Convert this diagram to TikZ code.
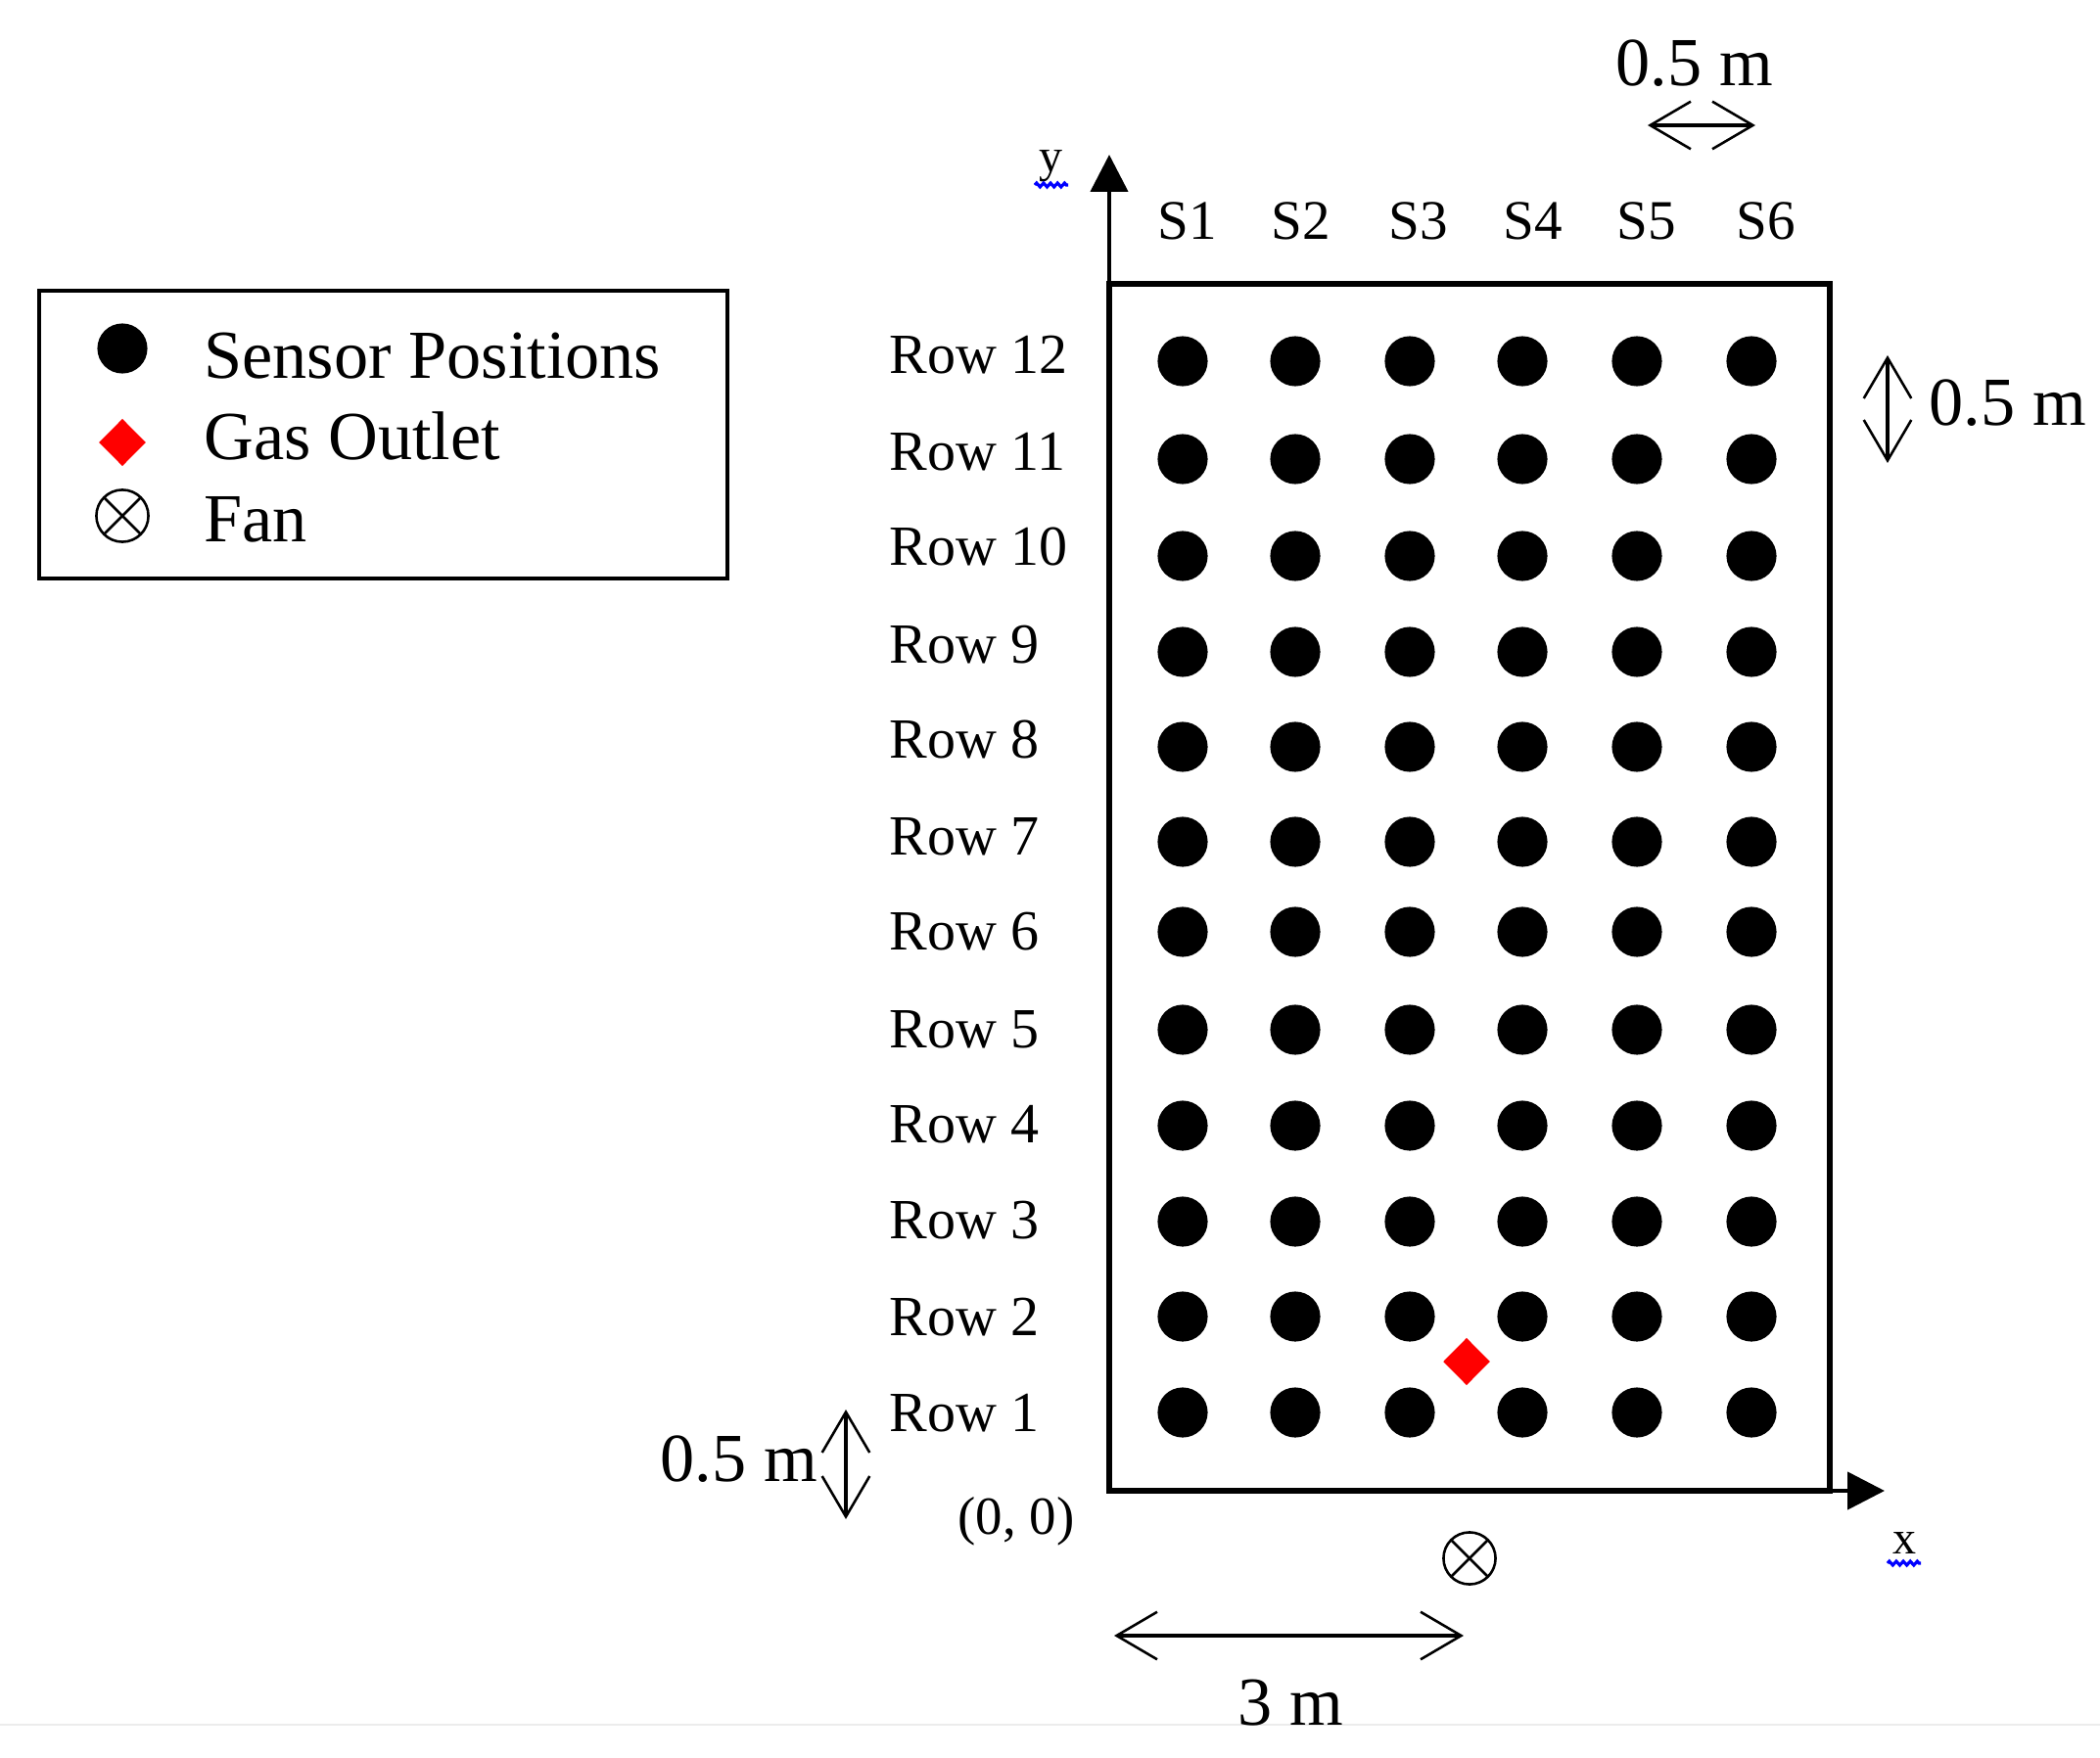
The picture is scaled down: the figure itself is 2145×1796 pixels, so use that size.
\documentclass[tikz,border=0pt]{standalone}
\usepackage{fontspec}
\setmainfont{Liberation Serif}
\usetikzlibrary{arrows.meta,shapes.geometric,decorations.pathmorphing}
\definecolor{edgegray}{RGB}{236,236,236}
\begin{document}
\begin{tikzpicture}[x=0.35pt,y=-0.35pt,
  sensor/.style={circle,fill=black,minimum size=17.9pt,inner sep=0pt,outer sep=0pt},
  outlet/.style={diamond,fill=red,shape aspect=1,minimum width=16.8pt,minimum height=17pt,inner sep=0pt},
  fanmark/.style={circle,draw,line width=0.9pt,minimum size=18.6pt,inner sep=0pt,
     path picture={\draw[line width=0.9pt]
       (path picture bounding box.north west)--(path picture bounding box.south east)
       (path picture bounding box.north east)--(path picture bounding box.south west);}},
  rowlab/.style={anchor=base west,inner sep=0pt,font=\fontsize{20.3}{22}\selectfont},
  slab/.style={anchor=base,inner sep=0pt,font=\fontsize{20}{22}\selectfont},
  biglab/.style={anchor=base west,inner sep=0pt,font=\fontsize{24.6}{28}\selectfont},
  axlab/.style={anchor=base,inner sep=0pt,font=\fontsize{16.8}{18}\selectfont},
  axisline/.style={line width=1.6pt,-{Triangle[length=13.3pt,width=13.3pt]}},
  dimarrow/.style={line width=1.5pt,
     {Straight Barb[length=14.5pt,width=17pt,line width=0.9pt]}-{Straight Barb[length=14.5pt,width=17pt,line width=0.9pt]}},
  squiggle/.style={blue,line width=1.1pt,decorate,decoration={zigzag,segment length=2.5pt,amplitude=0.7pt}}
]
\useasboundingbox (0,0) rectangle (2145,1796);

% faint bottom edge
\draw[edgegray,line width=1pt] (0,1762) -- (2145,1762);

% legend
\draw[line width=1.4pt] (40,297) rectangle (743,591);
\node[sensor] (legsensor) at (125,356) {};
\node[outlet] (legoutlet) at (125,452) {};
\node[fanmark] (legfan) at (125,527) {};
\node[biglab] (legt1) at (208,387) {Sensor Positions};
\node[biglab] (legt2) at (208,469) {Gas Outlet};
\node[biglab] (legt3) at (208,553) {Fan};

% room and axes
\coordinate (O) at (1133,1523);
\coordinate (ytip) at (1133,158);
\coordinate (xtip) at (1925,1523);
\draw[line width=2pt] (O) rectangle (1869,290);
\draw[axisline] (O) -- (ytip);
\draw[axisline] (O) -- (xtip);
\node[axlab] (ylab) at (1073,176) {y};
\draw[squiggle] (1057,189) -- (1091,189);
\node[axlab] (xlab) at (1945,1587) {x};
\draw[squiggle] (1928,1597) -- (1962,1597);
\node[anchor=base west,inner sep=0pt,font=\fontsize{19.2}{22}\selectfont] (origin) at (978,1567) {(0, 0)};

% sensors
\foreach \yy [count=\r] in {1443,1345,1248,1150,1052,952,860,763,666,568,469,369} {
  \foreach \xx [count=\c] in {1208,1323,1440,1555,1672,1789} {
    \node[sensor] (s\c-\r) at (\xx,\yy) {};
  }
}
% row labels
\foreach \bb [count=\r] in {1462,1364,1265,1167,1070,970,873,774,677,577,481,382} {
  \node[rowlab] (row\r) at (908,\bb) {Row \r};
}
% column labels
\foreach \xx [count=\c] in {1213,1329,1449,1566,1682,1804} {
  \node[slab] (S\c) at (\xx,245) {S\c};
}

% gas outlet and fan
\node[outlet] (outlet) at (1498,1391) {};
\node[fanmark] (fan) at (1501,1592) {};

% dimensions
\coordinate (dt1) at (1683,128);  \coordinate (dt2) at (1793,128);
\draw[dimarrow] (dt1) -- (dt2);
\node[biglab] (dimtop) at (1650,88) {0.5 m};

\coordinate (dr1) at (1928,363);  \coordinate (dr2) at (1928,473);
\draw[dimarrow] (dr1) -- (dr2);
\node[biglab] (dimright) at (1970,435) {0.5 m};

\coordinate (dl1) at (864,1440);  \coordinate (dl2) at (864,1552);
\draw[dimarrow] (dl1) -- (dl2);
\node[biglab] (dimleft) at (674,1513) {0.5 m};

\coordinate (db1) at (1138,1671);  \coordinate (db2) at (1495,1671);
\draw[dimarrow] (db1) -- (db2);
\node[biglab,anchor=base] (dimbottom) at (1318,1762) {3 m};
\end{tikzpicture}
\end{document}
